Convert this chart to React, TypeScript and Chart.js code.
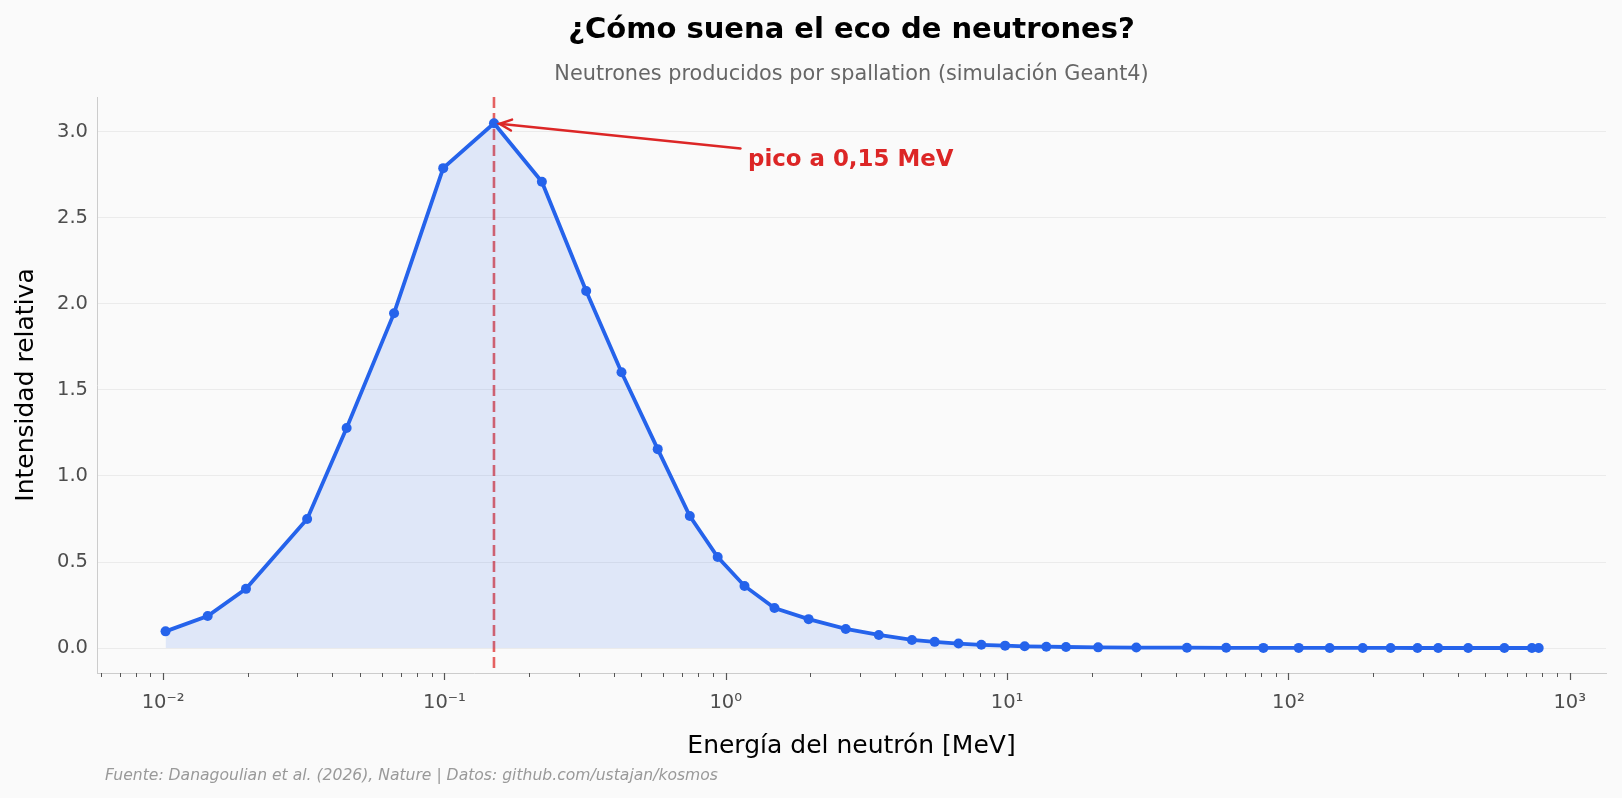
import React, { useEffect, useRef } from 'react';
import { Chart, registerables } from 'chart.js';

Chart.register(...registerables);

// ---- data ----
const energies = [
  0.0102, 0.0144, 0.0197, 0.0325, 0.0449, 0.0662, 0.099, 0.15, 0.222, 0.319,
  0.426, 0.573, 0.745, 0.936, 1.166, 1.49, 1.97, 2.67, 3.5, 4.59,
  5.53, 6.72, 8.1, 9.84, 11.55, 13.79, 16.2, 21.07, 28.8, 43.6,
  60.1, 81.5, 108.8, 140.2, 183.8, 230.9, 287.7, 340.8, 435.6, 585.9,
  734, 776,
];
const intensities = [
  0.097, 0.186, 0.344, 0.75, 1.279, 1.946, 2.789, 3.05, 2.71, 2.075,
  1.603, 1.156, 0.767, 0.529, 0.361, 0.233, 0.168, 0.111, 0.076, 0.047,
  0.036, 0.026, 0.019, 0.014, 0.01, 0.008, 0.006, 0.004, 0.003, 0.002,
  0.0015, 0.001, 0.001, 0.0008, 0.0006, 0.0005, 0.0004, 0.0004, 0.0003, 0.0002,
  0.0002, 0.0001,
];
const yTickValues = [0, 0.5, 1.0, 1.5, 2.0, 2.5, 3.0];
const xDecades = [-3, -2, -1, 0, 1, 2, 3];
const xMin = 0.00582;
const xMax = 1346;
const yMin = -0.145;
const yMax = 3.2025;
const peakEnergy = 0.15;
const peakIntensity = 3.05;
const annotationEnergy = 1.2;
const annotationIntensity = 2.838;

const titleText = '¿Cómo suena el eco de neutrones?';
const subtitleText = 'Neutrones producidos por spallation (simulación Geant4)';
const xTitle = 'Energía del neutrón [MeV]';
const yTitle = 'Intensidad relativa';
const annotationText = 'pico a 0,15 MeV';
const footerText = 'Fuente: Danagoulian et al. (2026), Nature | Datos: github.com/ustajan/kosmos';

const FONT = "'DejaVu Sans', 'Noto Sans', sans-serif";
const BLUE = '#2563eb';
const RED = '#dc2626';

const SUP: Record<string, string> = { '-': '⁻', '0': '⁰', '1': '¹', '2': '²', '3': '³', '4': '⁴', '5': '⁵', '6': '⁶', '7': '⁷', '8': '⁸', '9': '⁹' };
const sup = (n: number) => String(n).split('').map((c) => SUP[c] || c).join('');

function buildXTicks() {
  const out: { value: number; major: boolean }[] = [];
  for (const e of xDecades) {
    for (let m = 1; m <= 9; m++) {
      const v = Number((m * Math.pow(10, e)).toPrecision(6));
      if (v >= xMin && v <= xMax) out.push({ value: v, major: m === 1 });
    }
  }
  return out;
}

export default function App() {
  const ref = useRef<HTMLCanvasElement>(null);

  useEffect(() => {
    document.body.style.margin = '0';
    document.body.style.background = '#fafafa';
    const canvas = ref.current!;

    const bgPlugin = {
      id: 'bg',
      beforeDraw(chart: any) {
        const ctx = chart.ctx;
        ctx.save();
        ctx.fillStyle = '#fafafa';
        ctx.fillRect(0, 0, chart.width, chart.height);
        ctx.restore();
      },
    };

    const overlay = {
      id: 'overlay',
      beforeDatasetsDraw(chart: any) {
        const { ctx, chartArea } = chart;
        const xs = chart.scales.x;
        const px = xs.getPixelForValue(peakEnergy);
        ctx.save();
        ctx.strokeStyle = 'rgba(220,38,38,0.72)';
        ctx.lineWidth = 2.6;
        ctx.setLineDash([11, 5]);
        ctx.beginPath();
        ctx.moveTo(px, chartArea.top);
        ctx.lineTo(px, chartArea.bottom);
        ctx.stroke();
        ctx.restore();
      },
      afterDraw(chart: any) {
        const { ctx, chartArea } = chart;
        const xs = chart.scales.x;
        const ys = chart.scales.y;
        const cx = (chartArea.left + chartArea.right) / 2;
        ctx.save();
        // title + subtitle
        ctx.textAlign = 'center';
        ctx.textBaseline = 'middle';
        ctx.fillStyle = '#000000';
        ctx.font = `bold 29px ${FONT}`;
        ctx.fillText(titleText, cx, 30);
        ctx.fillStyle = '#666666';
        ctx.font = `20.8px ${FONT}`;
        ctx.fillText(subtitleText, cx, 75);
        // footer
        ctx.textAlign = 'left';
        ctx.fillStyle = '#999999';
        ctx.font = `italic 15.6px ${FONT}`;
        ctx.fillText(footerText, 105, 776);
        // x tick marks
        ctx.strokeStyle = '#555555';
        for (const t of xs.ticks) {
          const p = Math.round(xs.getPixelForValue(t.value)) + 0.5;
          const major = Math.abs(Math.log10(t.value) - Math.round(Math.log10(t.value))) < 1e-6;
          ctx.lineWidth = major ? 1.2 : 1;
          ctx.beginPath();
          ctx.moveTo(p, chartArea.bottom);
          ctx.lineTo(p, chartArea.bottom + (major ? 7 : 4));
          ctx.stroke();
        }
        // annotation
        const tx = xs.getPixelForValue(annotationEnergy);
        const ty = ys.getPixelForValue(annotationIntensity);
        const pxp = xs.getPixelForValue(peakEnergy);
        const pyp = ys.getPixelForValue(peakIntensity);
        ctx.font = `bold 22.9px ${FONT}`;
        ctx.fillStyle = RED;
        ctx.textBaseline = 'middle';
        ctx.fillText(annotationText, tx, ty);
        const w = ctx.measureText(annotationText).width;
        const tcx = tx + w / 2;
        const dx = pxp - tcx;
        const dy = pyp - ty;
        const len = Math.hypot(dx, dy);
        const ux = dx / len;
        const uy = dy / len;
        const startX = tx - 7.5;
        const startY = ty + (startX - tcx) * (dy / dx);
        const tipX = pxp - ux * 5.6;
        const tipY = pyp - uy * 5.6;
        ctx.strokeStyle = RED;
        ctx.lineWidth = 2.5;
        ctx.lineCap = 'round';
        ctx.beginPath();
        ctx.moveTo(startX, startY);
        ctx.lineTo(tipX, tipY);
        ctx.stroke();
        const hl = 12;
        const hw = 5.5;
        const bx = tipX - ux * hl;
        const by = tipY - uy * hl;
        ctx.beginPath();
        ctx.moveTo(bx - uy * hw, by + ux * hw);
        ctx.lineTo(tipX, tipY);
        ctx.lineTo(bx + uy * hw, by - ux * hw);
        ctx.stroke();
        ctx.restore();
      },
    };

    const chart = new Chart(canvas, {
      type: 'line',
      data: {
        datasets: [
          {
            data: energies.map((e, i) => ({ x: e, y: intensities[i] })),
            borderColor: BLUE,
            borderWidth: 3.8,
            backgroundColor: 'rgba(37,99,235,0.12)',
            fill: { value: 0 },
            pointRadius: 5,
            pointBackgroundColor: BLUE,
            pointBorderColor: BLUE,
            pointBorderWidth: 0,
            tension: 0,
          },
        ],
      },
      options: {
        responsive: false,
        animation: false,
        devicePixelRatio: 1,
        layout: { padding: { top: 97, right: 16, bottom: 0, left: 0 } },
        plugins: {
          legend: { display: false },
          title: { display: false },
          tooltip: { enabled: false },
        },
        scales: {
          x: {
            type: 'logarithmic',
            min: xMin,
            max: xMax,
            afterBuildTicks(scale: any) {
              scale.ticks = buildXTicks().map((t) => ({ value: t.value, major: t.major }));
            },
            afterFit(scale: any) {
              scale.height = 125;
            },
            grid: { display: false, drawTicks: false },
            border: { display: true, color: '#cccccc', width: 1 },
            ticks: {
              autoSkip: false,
              maxRotation: 0,
              minRotation: 0,
              padding: 18,
              color: '#4d4d4d',
              font: { family: FONT, size: 19.5 },
              callback(value: any) {
                const v = Number(value);
                const lg = Math.log10(v);
                if (Math.abs(lg - Math.round(lg)) < 1e-6) return '10' + sup(Math.round(lg));
                return '';
              },
            },
            title: {
              display: true,
              text: xTitle,
              color: '#000000',
              font: { family: FONT, size: 25, lineHeight: 1.2 },
              padding: { top: 0, bottom: 37 },
            },
          },
          y: {
            type: 'linear',
            min: yMin,
            max: yMax,
            afterBuildTicks(scale: any) {
              scale.ticks = yTickValues.map((v) => ({ value: v }));
            },
            afterFit(scale: any) {
              scale.width = 97;
            },
            grid: { display: true, color: '#ebebeb', lineWidth: 1, drawTicks: false },
            border: { display: true, color: '#cccccc', width: 1 },
            ticks: {
              padding: 9,
              color: '#4d4d4d',
              font: { family: FONT, size: 19.5 },
              callback(value: any) {
                return Number(value).toFixed(1);
              },
            },
            title: {
              display: true,
              text: yTitle,
              color: '#000000',
              font: { family: FONT, size: 25, lineHeight: 1.2 },
              padding: { top: 11, bottom: 0 },
            },
          },
        },
      } as any,
      plugins: [bgPlugin, overlay],
    });

    return () => chart.destroy();
  }, []);

  return <canvas ref={ref} width={1622} height={798} style={{ display: 'block', width: 1622, height: 798 }} />;
}
